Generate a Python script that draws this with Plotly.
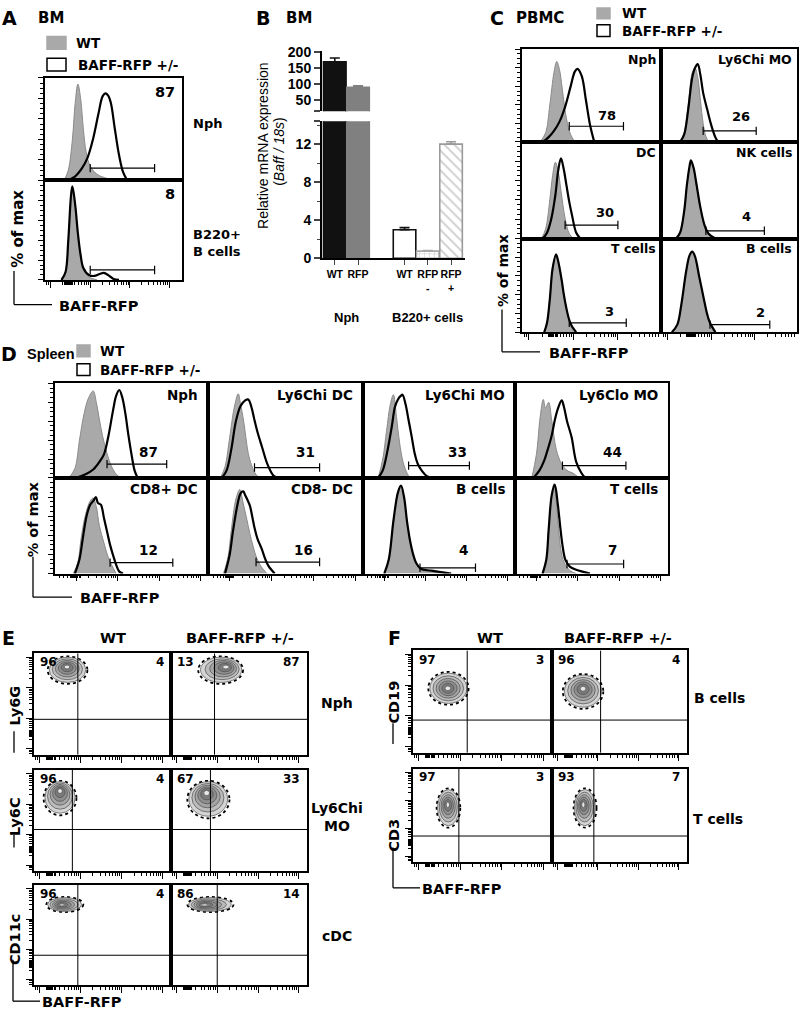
import numpy as np
import plotly.graph_objects as go

W, H = 800, 1020
BF = "DejaVu Sans"
AR = "Liberation Sans"

# ---------------- DATA ----------------
# Panel B (qPCR)
b_group = ["Nph", "Nph", "B220+ cells", "B220+ cells", "B220+ cells"]
b_label = ["WT", "RFP", "WT", "RFP<br>-", "RFP<br>+"]
b_value = [170, 89, 3.0, 0.75, 12.0]
b_error = [12, 5, 0.22, 0.05, 0.25]
b_ticks_low = [0, 4, 8, 12]
b_ticks_high = [50, 100, 150, 200]

# Panel A (BM histograms) : x = % of axis width, y = % of max
A_cell = ["Nph", "B220+<br>B cells"]
A_pct = ["87", "8"]
A_gate_lo = [33, 33]
A_gate_hi = [80, 80]
A_gate_y = [12, 10]
A_wt_x = [[14, 17, 20, 22, 24, 26, 28, 30, 33, 38, 45, 50],
          [12, 15, 17, 19, 20, 22, 24, 26, 28, 32, 38]]
A_wt_y = [[0, 10, 40, 75, 94, 80, 50, 28, 14, 6, 2, 0],
          [0, 8, 40, 85, 94, 75, 45, 22, 10, 3, 0]]
A_rfp_x = [[16, 22, 27, 31, 35, 39, 42, 44, 46, 48, 51, 54, 57, 60],
           [12, 15, 17, 19, 20, 22, 24, 26, 28, 32, 36, 40, 43, 46, 50, 54]]
A_rfp_y = [[0, 4, 12, 22, 40, 65, 82, 85, 83, 76, 50, 25, 8, 0],
           [0, 8, 40, 85, 94, 76, 47, 25, 12, 5, 4, 6, 7, 5, 1, 0]]

# Panel C (PBMC histograms)
C_cell = ["Nph", "Ly6Chi MO", "DC", "NK cells", "T cells", "B cells"]
C_pct = ["78", "26", "30", "4", "3", "2"]
C_pct_x = [61, 59, 60, 63, 63, 73]
C_pct_y = [29, 27, 27, 23, 22, 21]
C_gate_lo = [34, 31, 31, 33, 34, 36]
C_gate_hi = [73, 70, 69, 76, 75, 80]
C_gate_y = [17, 12, 14, 8, 10, 8]
C_wt_x = [[13, 17, 20, 23, 25, 27, 29, 32, 35, 38],
          [14, 17, 20, 23, 25, 27, 29, 31, 33, 35],
          [14, 17, 20, 22, 24, 26, 28, 31, 34, 37],
          [11, 14, 17, 19, 21, 22, 24, 26, 29, 32, 35, 38],
          [16, 18, 20, 22, 24.5, 26, 28.5, 30, 32, 34, 36, 38],
          [8, 12, 15, 18.5, 21, 23, 25, 28, 30, 32, 34, 36, 39]]
C_wt_y = [[0, 10, 40, 75, 87, 78, 57, 25, 8, 0],
          [0, 10, 40, 75, 80, 70, 45, 20, 6, 0],
          [0, 10, 40, 65, 79, 70, 50, 21, 5, 0],
          [0, 6, 28, 55, 75, 81, 72, 55, 30, 12, 4, 0],
          [0, 10, 35, 68, 83, 75, 55, 40, 24, 12, 5, 0],
          [0, 8, 30, 65, 82, 86, 80, 59, 45, 31, 18, 10, 0]]
C_rfp_x = [[15, 19, 23, 27, 31, 35, 38, 40, 43, 46, 49, 52],
           [14, 17, 20, 23, 25, 27, 29, 31, 34, 37, 40, 42],
           [15, 18, 21, 24, 26, 28, 30, 32, 34, 36, 39, 42],
           [11, 14, 17, 19, 21, 22, 24, 26, 29, 32, 35, 40],
           [16, 18, 20, 22, 24.5, 26, 28.5, 30, 32, 34, 36, 39],
           [8, 12, 15, 18.5, 21, 23, 25, 28, 30, 32, 34, 36, 40]]
C_rfp_y = [[0, 5, 12, 22, 38, 60, 76, 79, 71, 45, 18, 0],
           [0, 8, 35, 70, 80, 84, 72, 53, 35, 18, 5, 0],
           [0, 6, 20, 45, 70, 83, 72, 55, 38, 24, 6, 0],
           [0, 6, 28, 55, 75, 81, 73, 57, 32, 14, 5, 0],
           [0, 10, 35, 68, 83, 76, 56, 41, 25, 13, 6, 0],
           [0, 8, 30, 65, 82, 86, 81, 60, 46, 32, 19, 10, 0]]

# Panel D (Spleen histograms)
D_cell = ["Nph", "Ly6Chi DC", "Ly6Chi MO", "Ly6Clo MO", "CD8+ DC", "CD8- DC", "B cells", "T cells"]
D_pct = ["87", "31", "33", "44", "12", "16", "4", "7"]
D_pct_x = [61, 63, 62, 64, 61, 61.5, 66, 64]
D_pct_y = [27, 27, 27, 27, 25, 25, 25, 25]
D_gate_lo = [34, 30, 30, 31, 36, 31, 37.5, 34]
D_gate_hi = [73, 72, 70, 72.5, 77, 72, 74, 71]
D_gate_y = [14.6, 11, 13, 13, 11.4, 12, 6, 10]
D_wt_x = [[9, 13, 16, 19, 22, 25, 27, 29, 31, 34, 37, 40, 43],
          [8, 11, 14, 17, 19.5, 21, 23, 26, 28, 30, 33],
          [10, 13, 15.5, 18, 20, 22, 24, 26.5, 29, 31],
          [11, 14, 16.5, 18.5, 20, 22, 24, 27, 30, 32, 35, 38, 42],
          [12, 15, 17, 20, 23, 25, 27, 29, 32, 35, 37, 40],
          [10, 13, 15, 18, 20.5, 22.5, 25, 27, 29, 31.5, 34, 38],
          [14, 17, 20, 23, 25, 27, 29, 31, 33, 35, 38, 45, 55],
          [18, 20.5, 22, 24, 25.5, 27, 28.5, 30, 32, 36, 40]]
D_wt_y = [[0, 10, 40, 68, 85, 92, 80, 62, 45, 26, 12, 4, 0],
          [0, 12, 43, 75, 89, 78, 60, 26, 14, 6, 0],
          [0, 20, 50, 78, 88, 65, 38, 16, 5, 0],
          [0, 25, 65, 83, 74, 80, 61, 30, 16, 11, 7, 5, 0],
          [0, 12, 36, 62, 76, 79, 70, 50, 32, 16, 9, 0],
          [0, 18, 45, 78, 88, 75, 57, 42, 29, 16, 8, 0],
          [0, 15, 55, 85, 92, 80, 53, 33, 19, 10, 4, 2, 0],
          [0, 15, 47, 82, 94, 75, 47, 25, 12, 3, 0]]
D_rfp_x = [[13, 20, 25, 29, 32, 35, 38, 40, 42, 44, 46, 48, 50, 52, 54],
           [9, 12, 15, 18, 21, 24, 26, 28, 30, 32, 35, 38, 42, 45],
           [10, 13, 16, 19, 21, 23, 25, 26, 28, 30, 32, 34, 36, 39, 42, 45],
           [12, 16, 19, 21, 24, 26, 28, 30.5, 32, 34, 37, 40, 43.5, 46],
           [13, 16, 18, 20.6, 23, 25, 26.7, 28, 30, 32, 34, 36, 38, 40, 42, 44.5],
           [11, 14, 16, 19, 21, 22.7, 24, 27, 28.5, 30, 32, 34.6, 37, 39, 43],
           [14, 17, 20, 23, 25, 27, 29, 31, 33, 35, 38, 45, 58],
           [18, 20.5, 22, 24, 26, 28, 29.5, 31, 33, 36, 40, 44, 49]]
D_rfp_y = [[0, 4, 9, 17, 25, 45, 72, 87, 93, 85, 68, 45, 25, 8, 0],
           [0, 8, 30, 60, 76, 82, 83, 75, 61, 48, 32, 16, 3, 0],
           [0, 8, 28, 55, 75, 83, 87, 88, 78, 61, 44, 26, 15, 7, 2, 0],
           [0, 8, 18, 28, 45, 61, 73, 82, 75, 60, 43, 17, 5, 0],
           [0, 15, 35, 60, 72, 76, 80, 74, 72, 58, 44, 30, 19, 9, 2, 0],
           [0, 20, 43, 72, 84, 86, 82, 71, 60, 48, 36, 26, 15, 8, 0],
           [0, 15, 55, 85, 92, 80, 54, 34, 20, 11, 5, 3, 0],
           [0, 15, 46, 82, 93, 72, 50, 30, 14, 7, 4, 2, 0]]

# Panels E / F (contour plots): quadrant %, gates and cloud extents (axis %)
E_quad_tl = ["96", "13", "96", "67", "96", "86"]
E_quad_tr = ["4", "87", "4", "33", "4", "14"]
E_gate_x = [32, 32, 28, 29, 32, 34]
E_gate_y = [35, 35, 41, 41, 30, 30]
E_cloud_x0 = [10, 20, 7, 12, 9, 12]
E_cloud_x1 = [39, 53, 31, 43, 36, 46]
E_cloud_y0 = [70, 70, 55, 52, 73, 73]
E_cloud_y1 = [97, 97, 89, 89, 88, 88]
E_core_x = [24, 41, 19, 26, 20, 24]
E_core_y = [87, 87, 80, 78, 80, 80]
E_rows = ["Nph", "Ly6Chi<br>MO", "cDC"]
E_ytitle = ["Ly6G", "Ly6C", "CD11c"]

F_quad_tl = ["97", "96", "97", "93"]
F_quad_tr = ["3", "4", "3", "7"]
F_gate_x = [39, 36, 33, 31]
F_gate_y = [32, 32, 28, 28]
F_cloud_x0 = [11, 8, 17, 16]
F_cloud_x1 = [40, 38, 34, 33]
F_cloud_y0 = [47, 43, 37, 37]
F_cloud_y1 = [79, 77, 79, 79]
F_core_x = [25, 23, 25, 23]
F_core_y = [63, 63, 62, 62]
F_rows = ["B cells", "T cells"]
F_ytitle = ["CD19", "CD3"]

# ---------------- FIGURE ----------------
fig = go.Figure()
layout = {}
shapes = []
annots = []
n_ax = [0]


def pxx(x):
    return x / W


def pxy(y):
    return 1 - y / H


def text(x, y, s, size, font=BF, xanchor="center", yanchor="middle", angle=0, bold=True, xref="paper", yref="paper", align="center"):
    if xref == "paper":
        x = pxx(x)
    if yref == "paper":
        y = pxy(y)
    annots.append(dict(x=x, y=y, xref=xref, yref=yref, text=("<b>%s</b>" % s) if bold else s,
                       showarrow=False, xanchor=xanchor, yanchor=yanchor, textangle=angle, align=align,
                       font=dict(family=font, size=size, color="black")))


def line_px(x0, y0, x1, y1, w=1.3):
    shapes.append(dict(type="line", xref="paper", yref="paper", x0=pxx(x0), y0=pxy(y0), x1=pxx(x1), y1=pxy(y1),
                       line=dict(color="black", width=w)))


def rect_px(x0, y0, x1, y1, fill, lc):
    shapes.append(dict(type="rect", xref="paper", yref="paper", x0=pxx(x0), y0=pxy(y0), x1=pxx(x1), y1=pxy(y1),
                       fillcolor=fill, line=dict(color=lc, width=1.5)))


def axes(x0, x1, y0, y1, xr=(0, 100), yr=(0, 100), xa=None, ya=None):
    n_ax[0] += 1
    n = n_ax[0]
    xid = "x" if n == 1 else "x%d" % n
    yid = "y" if n == 1 else "y%d" % n
    xd = dict(domain=[x0 / W, x1 / W], range=list(xr), anchor=yid, showgrid=False, zeroline=False,
              showline=True, mirror=True, linecolor="black", linewidth=1.6, ticks="",
              showticklabels=False, fixedrange=True)
    yd = dict(domain=[1 - y1 / H, 1 - y0 / H], range=list(yr), anchor=xid, showgrid=False, zeroline=False,
              showline=True, mirror=True, linecolor="black", linewidth=1.6, ticks="",
              showticklabels=False, fixedrange=True)
    if xa:
        xd.update(xa)
    if ya:
        yd.update(ya)
    layout["xaxis" if n == 1 else "xaxis%d" % n] = xd
    layout["yaxis" if n == 1 else "yaxis%d" % n] = yd
    return xid, yid


def flow_ticks(first, dec, clo, chi, n=4):
    majors = [first + k * dec for k in range(n) if 0 <= first + k * dec <= 100]
    minors = []
    for k in range(-1, n):
        for m in range(2, 10):
            p = first + (k + np.log10(m)) * dec
            if 0.5 < p < 99.5:
                minors.append(round(float(p), 2))
    minors += [round(float(v), 2) for v in np.arange(clo, chi, 0.8)]
    return majors, minors


def xticks(first, dec, clo, chi):
    mj, mn = flow_ticks(first, dec, clo, chi)
    return dict(ticks="outside", tickmode="array", tickvals=mj, ticklen=6, tickwidth=1.3, tickcolor="black",
                minor=dict(tickmode="array", tickvals=mn, ticks="outside", ticklen=3, tickwidth=1, tickcolor="black"))


def yflow(first, dec, clo, chi):
    mj, mn = flow_ticks(first, dec, clo, chi)
    return dict(ticks="outside", tickmode="array", tickvals=mj, ticklen=6, tickwidth=1.3, tickcolor="black",
                minor=dict(tickmode="array", tickvals=mn, ticks="outside", ticklen=3, tickwidth=1, tickcolor="black"))


YHIST = dict(ticks="outside", tickmode="linear", tick0=0, dtick=20, ticklen=5, tickwidth=1.2, tickcolor="black",
             minor=dict(tickmode="linear", tick0=0, dtick=5, ticks="outside", ticklen=3, tickwidth=1, tickcolor="black"))


def hist(xid, yid, wx, wy, rx, ry, glo, ghi, gy):
    fig.add_trace(go.Scatter(x=wx, y=wy, mode="lines", line_shape="spline", fill="tozeroy",
                             fillcolor="#a9a9a9", line=dict(color="#8a8a8a", width=1),
                             xaxis=xid, yaxis=yid, showlegend=False, hoverinfo="skip"))
    fig.add_trace(go.Scatter(x=rx, y=ry, mode="lines", line_shape="spline",
                             line=dict(color="black", width=2.2),
                             xaxis=xid, yaxis=yid, showlegend=False, hoverinfo="skip"))
    fig.add_trace(go.Scatter(x=[glo, ghi], y=[gy, gy], mode="lines+markers",
                             line=dict(color="black", width=1.2),
                             marker=dict(symbol="line-ns", size=6, line=dict(color="black", width=1.2)),
                             xaxis=xid, yaxis=yid, showlegend=False, hoverinfo="skip"))


# ---------- Panel A ----------
text(9, 11, "A", 19)
text(36, 11, "BM", 15, xanchor="left")
rect_px(47, 30, 66, 43, "#a9a9a9", "#a9a9a9")
text(74, 37, "WT", 13.5, xanchor="left")
rect_px(47, 52, 66, 65, "white", "black")
text(76, 59, "BAFF-RFP +/-", 13.5, xanchor="left")
A_rows = [(72, 176), (176, 277)]
for i in range(2):
    y0, y1 = A_rows[i]
    xa = xticks(4, 29, 14, 21) if i == 1 else None
    xid, yid = axes(45, 182, y0, y1, xa=xa, ya=YHIST)
    hist(xid, yid, A_wt_x[i], A_wt_y[i], A_rfp_x[i], A_rfp_y[i], A_gate_lo[i], A_gate_hi[i], A_gate_y[i])
    text(96, 86, A_pct[i], 14.5, xref=xid, yref=yid, xanchor="right")
text(191, 118, A_cell[0], 13, xanchor="left")
text(191, 240, A_cell[1], 13, xanchor="left", align="left")
text(18, 225, "% of max", 15, angle=-90)
line_px(14, 268, 14, 302)
line_px(14, 302, 52, 302)
text(99, 303, "BAFF-RFP", 14.5)

# ---------- Panel B ----------
text(263, 11, "B", 19)
text(284, 11, "BM", 15, xanchor="left")
gidx = {}
b_pos = []
for i, g in enumerate(b_group):
    if g not in gidx:
        gidx[g] = len(gidx)
    b_pos.append(i + gidx[g])
b_fill = ["#111111", "#808080", "white", "white", "white"]
b_line = ["#111111", "#808080", "#111111", "#a8a8a8", "#9a9a9a"]
b_pat = ["", "", "", "+", "\\"]
BXR = [-0.55, 5.6]
LOW_R = (0, 14.4)
HIGH_R = (13.5, 203)
xl, yl = axes(322, 465, 116, 255, xr=BXR, yr=LOW_R,
              xa=dict(mirror=False, ticks="outside", tickmode="array", tickvals=b_pos, ticktext=b_label,
                      ticklen=5, tickwidth=1.3, showticklabels=True, linewidth=2, tickangle=0,
                      tickfont=dict(family=AR, size=10.5, color="black", weight="bold")),
              ya=dict(mirror=False, ticks="outside", tickmode="array", tickvals=b_ticks_low + [LOW_R[1]],
                      ticktext=[str(v) for v in b_ticks_low] + [""], ticklen=6, tickwidth=1.5, linewidth=2,
                      showticklabels=True, tickfont=dict(family=AR, size=14, color="black", weight="bold"),
                      minor=dict(tickmode="linear", tick0=0, dtick=2, ticks="outside", ticklen=3, tickwidth=1.2)))
xu, yu = axes(322, 465, 45, 105.7, xr=BXR, yr=HIGH_R,
              xa=dict(visible=False, showline=False),
              ya=dict(mirror=False, ticks="outside", tickmode="array", tickvals=[HIGH_R[0]] + b_ticks_high,
                      ticktext=[""] + [str(v) for v in b_ticks_high], ticklen=6, tickwidth=1.5, linewidth=2,
                      showticklabels=True, tickfont=dict(family=AR, size=14, color="black", weight="bold")))
for xid, yid, rng in [(xl, yl, LOW_R), (xu, yu, HIGH_R)]:
    for i in range(len(b_value)):
        if b_value[i] < rng[0]:
            continue
        fig.add_trace(go.Bar(x=[b_pos[i]], y=[b_value[i]], width=0.97, xaxis=xid, yaxis=yid,
                             marker=dict(color=b_fill[i], line=dict(color=b_line[i], width=1.6),
                                         pattern=dict(shape=b_pat[i], fgcolor=b_line[i], bgcolor="white",
                                                      size=5 if b_pat[i] == "+" else 7, solidity=0.25)),
                             error_y=dict(type="data", symmetric=False, array=[b_error[i]], arrayminus=[0],
                                          color=b_line[i], thickness=1.6, width=5),
                             showlegend=False, hoverinfo="skip"))
for g, k in gidx.items():
    ps = [b_pos[i] for i in range(len(b_group)) if b_group[i] == g]
    text(float(np.mean(ps)), 315, g, 13, font=AR, xref=xl)
text(263, 141, "Relative mRNA expression", 14, font=AR, angle=-90, bold=False)
text(279, 147, "(<i>Baff / 18s</i>)", 14, font=AR, angle=-90, bold=False)

# ---------- Panel C ----------
text(497, 11, "C", 19)
text(514, 11, "PBMC", 15, xanchor="left")
rect_px(597, 1, 610, 12, "#a9a9a9", "#a9a9a9")
text(620, 6, "WT", 13.5, xanchor="left")
rect_px(597, 18, 610, 30, "white", "black")
text(620, 24, "BAFF-RFP +/-", 13.5, xanchor="left")
C_cols = [(522, 661), (661, 797)]
C_rows = [(43, 137), (137, 235), (235, 330)]
for i in range(6):
    r, c = divmod(i, 2)
    x0, x1 = C_cols[c]
    y0, y1 = C_rows[r]
    xa = xticks(5, 32, 19, 26) if r == 2 else None
    ya = YHIST if c == 0 else None
    xid, yid = axes(x0, x1, y0, y1, xa=xa, ya=ya)
    hist(xid, yid, C_wt_x[i], C_wt_y[i], C_rfp_x[i], C_rfp_y[i], C_gate_lo[i], C_gate_hi[i], C_gate_y[i])
    text(98, 89, C_cell[i], 12.5, xref=xid, yref=yid, xanchor="right")
    text(C_pct_x[i], C_pct_y[i], C_pct[i], 13, xref=xid, yref=yid)
text(503, 268, "% of max", 14, angle=-90)
line_px(502, 307, 502, 350)
line_px(502, 350, 540, 350)
text(589, 351, "BAFF-RFP", 14.5)

# ---------- Panel D ----------
text(9, 352, "D", 19)
text(25, 352, "Spleen", 14.5, font=AR, xanchor="left")
rect_px(77, 343, 90, 355, "#a9a9a9", "#a9a9a9")
text(98, 349, "WT", 13.5, xanchor="left")
rect_px(77, 362, 90, 374, "white", "black")
text(98, 368, "BAFF-RFP +/-", 13.5, xanchor="left")
D_cols = [(55, 208), (208, 363), (363, 515), (515, 668)]
D_rows = [(382, 478), (478, 575)]
for i in range(8):
    r, c = divmod(i, 4)
    x0, x1 = D_cols[c]
    y0, y1 = D_rows[r]
    xa = xticks(14, 27, 11, 17) if r == 1 else None
    ya = YHIST if c == 0 else None
    xid, yid = axes(x0, x1, y0, y1, xa=xa, ya=ya)
    hist(xid, yid, D_wt_x[i], D_wt_y[i], D_rfp_x[i], D_rfp_y[i], D_gate_lo[i], D_gate_hi[i], D_gate_y[i])
    text(95, 88, D_cell[i], 13.5, xref=xid, yref=yid, xanchor="right")
    text(D_pct_x[i], D_pct_y[i], D_pct[i], 13.5, xref=xid, yref=yid)
text(33, 520, "% of max", 14.5, angle=-90)
line_px(33, 558, 33, 599)
line_px(33, 599, 72, 599)
text(120, 600, "BAFF-RFP", 14.5)


# ---------- Panels E / F ----------
def cloud(xid, yid, ox0, ox1, oy0, oy1, cx, cy):
    ocx, ocy = (ox0 + ox1) / 2, (oy0 + oy1) / 2
    rx, ry = (ox1 - ox0) / 2, (oy1 - oy0) / 2
    shapes.append(dict(type="circle", xref=xid, yref=yid, x0=ox0, x1=ox1, y0=oy0, y1=oy1, layer="below",
                       line=dict(color="black", width=1.8, dash="dot"), fillcolor="rgba(0,0,0,0)"))
    levels = [(0.92, "#d4d4d4"), (0.76, "#bcbcbc"), (0.6, "#a4a4a4"), (0.45, "#8e8e8e"), (0.3, "#7a7a7a"),
              (0.14, "#e8e8e8")]
    for k, col in levels:
        ccx = cx + k * (ocx - cx)
        ccy = cy + k * (ocy - cy)
        shapes.append(dict(type="circle", xref=xid, yref=yid, x0=ccx - k * rx, x1=ccx + k * rx,
                           y0=ccy - k * ry, y1=ccy + k * ry, layer="below",
                           line=dict(color="#4d4d4d", width=0.7), fillcolor=col))


def dotplot(x0, x1, y0, y1, left, gx, gy, tl, tr, c):
    xa = xticks(4, 30, 9, 16)
    ya = yflow(6, 30, 18, 25) if left else None
    xid, yid = axes(x0, x1, y0, y1, xa=xa, ya=ya)
    cloud(xid, yid, *c)
    fig.add_trace(go.Scatter(x=[gx, gx], y=[0, 100], mode="lines", line=dict(color="black", width=1),
                             xaxis=xid, yaxis=yid, showlegend=False, hoverinfo="skip"))
    fig.add_trace(go.Scatter(x=[0, 100], y=[gy, gy], mode="lines", line=dict(color="black", width=1),
                             xaxis=xid, yaxis=yid, showlegend=False, hoverinfo="skip"))
    text(3, 91, tl, 12, xref=xid, yref=yid, xanchor="left")
    text(96, 91, tr, 12, xref=xid, yref=yid, xanchor="right")


text(8, 640, "E", 19)
text(113, 640, "WT", 14.5)
text(240, 640, "BAFF-RFP +/-", 14.5)
E_rowpx = [(656, 759), (774, 877), (891, 993)]
E_colpx = [(34, 171), (171, 307)]
for i in range(6):
    r, c = divmod(i, 2)
    dotplot(E_colpx[c][0], E_colpx[c][1], E_rowpx[r][0], E_rowpx[r][1], c == 0, E_gate_x[i], E_gate_y[i],
            E_quad_tl[i], E_quad_tr[i],
            (E_cloud_x0[i], E_cloud_x1[i], E_cloud_y0[i], E_cloud_y1[i], E_core_x[i], E_core_y[i]))
text(337, 706, E_rows[0], 14)
text(337, 822, E_rows[1], 14)
text(337, 943, E_rows[2], 14)
text(15, 709, E_ytitle[0], 14.5, angle=-90)
line_px(14, 735, 14, 757)
text(15, 822, E_ytitle[1], 14.5, angle=-90)
line_px(14, 840, 14, 853)
text(15, 947, E_ytitle[2], 14.5, angle=-90)
line_px(13, 967, 13, 1009)
line_px(13, 1009, 40, 1009)
text(82, 1010, "BAFF-RFP", 14.5)

text(394, 640, "F", 19)
text(490, 640, "WT", 14.5)
text(618, 640, "BAFF-RFP +/-", 14.5)
F_rowpx = [(653, 757), (773, 868)]
F_colpx = [(413, 552), (552, 687)]
for i in range(4):
    r, c = divmod(i, 2)
    dotplot(F_colpx[c][0], F_colpx[c][1], F_rowpx[r][0], F_rowpx[r][1], c == 0, F_gate_x[i], F_gate_y[i],
            F_quad_tl[i], F_quad_tr[i],
            (F_cloud_x0[i], F_cloud_x1[i], F_cloud_y0[i], F_cloud_y1[i], F_core_x[i], F_core_y[i]))
text(719, 701, F_rows[0], 14)
text(718, 824, F_rows[1], 14)
text(394, 706, F_ytitle[0], 14.5, angle=-90)
line_px(393, 727, 393, 748)
text(394, 841, F_ytitle[1], 14.5, angle=-90)
line_px(393, 853, 393, 894)
line_px(393, 894, 420, 894)
text(462, 895, "BAFF-RFP", 14.5)

fig.update_layout(width=W, height=H, margin=dict(l=0, r=0, t=0, b=0), paper_bgcolor="white",
                  plot_bgcolor="rgba(0,0,0,0)", showlegend=False, barmode="overlay",
                  shapes=shapes, annotations=annots, **layout)
fig.write_html("out.html", config={"displayModeBar": False},
               post_script="document.body.style.margin='0';document.body.style.overflow='hidden';")
